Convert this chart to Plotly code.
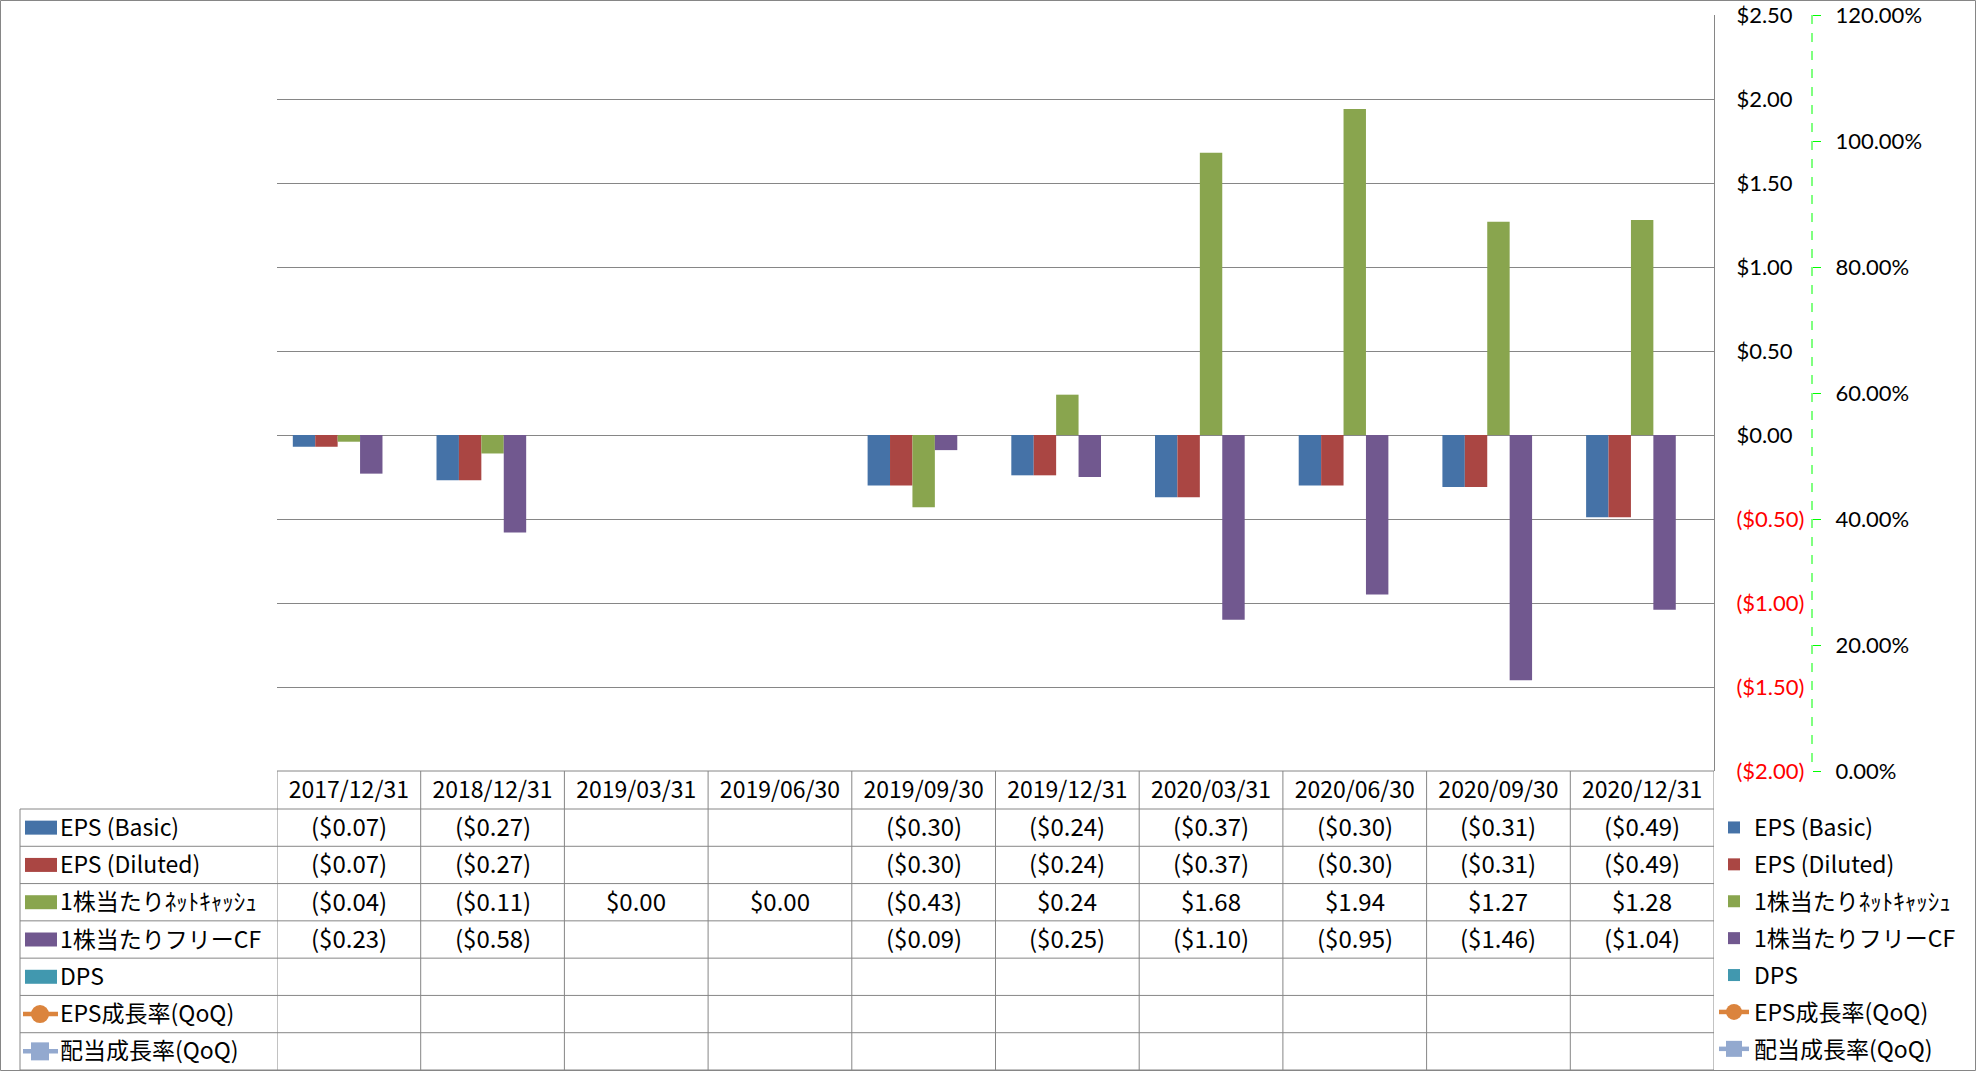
import plotly.graph_objects as go

W, H = 1976, 1071

# ---------------- data ----------------
categories = ["2017/12/31", "2018/12/31", "2019/03/31", "2019/06/30", "2019/09/30",
              "2019/12/31", "2020/03/31", "2020/06/30", "2020/09/30", "2020/12/31"]
eps_basic = [-0.07, -0.27, None, None, -0.30, -0.24, -0.37, -0.30, -0.31, -0.49]
eps_diluted = [-0.07, -0.27, None, None, -0.30, -0.24, -0.37, -0.30, -0.31, -0.49]
net_cash = [-0.04, -0.11, 0.00, 0.00, -0.43, 0.24, 1.68, 1.94, 1.27, 1.28]
free_cf = [-0.23, -0.58, None, None, -0.09, -0.25, -1.10, -0.95, -1.46, -1.04]
dps = [None, None, None, None, None, None, None, None, None, None]
eps_growth = [None, None, None, None, None, None, None, None, None, None]
div_growth = [None, None, None, None, None, None, None, None, None, None]

series_names = ["EPS (Basic)", "EPS (Diluted)", "1株当たりﾈｯﾄｷｬｯｼｭ", "1株当たりフリーCF",
                "DPS", "EPS成長率(QoQ)", "配当成長率(QoQ)"]
y1_ticks = [-2.0, -1.5, -1.0, -0.5, 0.0, 0.5, 1.0, 1.5, 2.0, 2.5]
y2_ticks = [0.0, 0.2, 0.4, 0.6, 0.8, 1.0, 1.2]
y2_grid = [0.2, 0.6, 1.0]

# ---------------- style ----------------
FONT = "Noto Sans CJK JP"
AXFONT = "Lato"
FS_NUM = 24
FS_TXT = 23
FS_AX = 22
GRAY = "#868686"
GREEN_LINE = "#00FF00"
colors = ["#4572A7", "#AA4643", "#89A54E", "#71588F", "#4198AF", "#DB843D", "#93A9CF"]
EPS = 1e-7

def px(x):
    return x / W

def py(y):
    return 1 - y / H

PLOT_L, PLOT_R, PLOT_T, PLOT_B = 277, 1714, 15, 771
TABLE_ROW0 = 809
ROW_H = (1070 - TABLE_ROW0) / 7.0
TEXT_SHIFT = 2.0

def money(v):
    if v is None:
        return ""
    return "$%.2f" % v if v >= 0 else "($%.2f)" % (-v)

def money_tick(v):
    s = money(v)
    if v < 0:
        return '<span style="color:#FF0000">%s</span>' % s
    return s

fig = go.Figure()

bar_series = [eps_basic, eps_diluted, net_cash, free_cf, dps]
for i, vals in enumerate(bar_series):
    fig.add_trace(go.Bar(
        x=categories, y=vals, name=series_names[i],
        marker=dict(color=colors[i], line=dict(width=0)),
        legendgroup="g%d" % i, yaxis="y"))

fig.add_trace(go.Scatter(
    x=categories, y=eps_growth, name=series_names[5], mode="lines+markers",
    line=dict(color=colors[5], width=4.5),
    marker=dict(symbol="circle", size=16, color=colors[5]),
    legendgroup="g5", yaxis="y2"))
fig.add_trace(go.Scatter(
    x=categories, y=div_growth, name=series_names[6], mode="lines+markers",
    line=dict(color=colors[6], width=4.5),
    marker=dict(symbol="square", size=16, color=colors[6]),
    legendgroup="g6", yaxis="y2"))

shapes = []
annotations = []

# outer chart border
shapes.append(dict(type="rect", xref="paper", yref="paper",
                   x0=px(0.5), x1=px(W - 0.5), y0=py(0.5), y1=py(H - 0.5),
                   line=dict(color=GRAY, width=1), layer="below"))

# secondary axis dashed line
shapes.append(dict(type="line", xref="paper", yref="paper",
                   x0=px(1812), x1=px(1812), y0=py(PLOT_T), y1=py(PLOT_B),
                   line=dict(color=GREEN_LINE, width=1, dash="dash")))

# ---------------- data table ----------------
n = len(categories)
for k in range(n + 1):
    shapes.append(dict(type="line", xref="x", yref="paper",
                       x0=k - 0.5, x1=k - 0.5, y0=py(PLOT_B), y1=py(H - 1),
                       line=dict(color=GRAY, width=1)))
shapes.append(dict(type="line", xref="paper", yref="paper",
                   x0=px(20), x1=px(20), y0=py(TABLE_ROW0), y1=py(H - 1),
                   line=dict(color=GRAY, width=1)))
shapes.append(dict(type="line", xref="paper", yref="paper",
                   x0=px(PLOT_L), x1=px(PLOT_R), y0=py(PLOT_B), y1=py(PLOT_B),
                   line=dict(color=GRAY, width=1)))
for r in range(8):
    yy = TABLE_ROW0 + ROW_H * r
    shapes.append(dict(type="line", xref="paper", yref="paper",
                       x0=px(20), x1=px(PLOT_R), y0=py(yy), y1=py(yy),
                       line=dict(color=GRAY, width=1)))

table_rows = [eps_basic, eps_diluted, net_cash, free_cf, dps, eps_growth, div_growth]
for r, vals in enumerate(table_rows):
    yc = TABLE_ROW0 + ROW_H * (r + 0.5)
    if r < 5:
        shapes.append(dict(type="rect", xref="paper", yref="paper",
                           x0=px(25), x1=px(57), y0=py(yc - 7), y1=py(yc + 7),
                           fillcolor=colors[r], line=dict(width=0)))
    else:
        shapes.append(dict(type="line", xref="paper", yref="paper",
                           x0=px(23), x1=px(58), y0=py(yc), y1=py(yc),
                           line=dict(color=colors[r], width=4.5)))
        shapes.append(dict(type="circle" if r == 5 else "rect", xref="paper", yref="paper",
                           x0=px(31), x1=px(49), y0=py(yc - 9), y1=py(yc + 9),
                           fillcolor=colors[r], line=dict(width=0)))
    annotations.append(dict(xref="paper", yref="paper", x=px(58), y=py(yc - TEXT_SHIFT),
                            xanchor="left", yanchor="middle", showarrow=False,
                            text=series_names[r],
                            font=dict(family=FONT, size=FS_TXT, color="black")))
    for i, v in enumerate(vals):
        if v is None:
            continue
        annotations.append(dict(xref="x", yref="paper", x=categories[i], y=py(yc - TEXT_SHIFT),
                                xanchor="center", yanchor="middle", showarrow=False,
                                text=money(v),
                                font=dict(family=FONT, size=FS_NUM, color="black")))

fig.update_layout(
    width=W, height=H,
    margin=dict(l=0, r=0, t=0, b=0, autoexpand=False),
    paper_bgcolor="white", plot_bgcolor="white",
    font=dict(family=FONT, size=FS_TXT, color="black"),
    barmode="group", bargap=0.22, bargroupgap=0,
    xaxis=dict(domain=[px(PLOT_L), px(PLOT_R)], type="category",
               categoryorder="array", categoryarray=categories,
               range=[-0.5, n - 0.5], showgrid=False, zeroline=False,
               showline=False, ticks="", ticklabelstandoff=3,
               tickfont=dict(family=FONT, size=FS_TXT, color="black")),
    yaxis=dict(domain=[py(PLOT_B), py(PLOT_T)], side="right",
               range=[-2, 2.5 + EPS], tickvals=y1_ticks,
               ticktext=[money_tick(v) for v in y1_ticks],
               showgrid=True, gridcolor=GRAY, gridwidth=1, zeroline=False,
               showline=True, linecolor=GRAY, linewidth=1, ticks="",
               ticklabelstandoff=17, ticklabeloverflow="allow",
               tickfont=dict(family=AXFONT, size=FS_AX, color="black")),
    yaxis2=dict(overlaying="y", side="right", anchor="free", position=px(1812),
                range=[0, 1.2 + EPS], tickvals=y2_ticks, tickformat=".2%",
                showgrid=False, zeroline=False, showline=False,
                ticks="outside", ticklen=8, tickcolor=GREEN_LINE, tickwidth=1,
                ticklabelstandoff=10, ticklabeloverflow="allow",
                tickfont=dict(family=AXFONT, size=FS_AX, color="black")),
    yaxis3=dict(overlaying="y", side="right", anchor="x",
                range=[0, 1.2 + EPS], tickvals=y2_grid, showticklabels=False,
                showgrid=True, gridcolor=GREEN_LINE, griddash="dash", gridwidth=1,
                zeroline=False, showline=False, ticks=""),
    legend=dict(x=px(PLOT_R), xanchor="left", y=0, yanchor="bottom",
                bgcolor="rgba(0,0,0,0)", borderwidth=0,
                tracegroupgap=4,
                font=dict(family=FONT, size=FS_TXT, color="black")),
    shapes=shapes,
    annotations=annotations,
)

fig.write_html("out.html")
